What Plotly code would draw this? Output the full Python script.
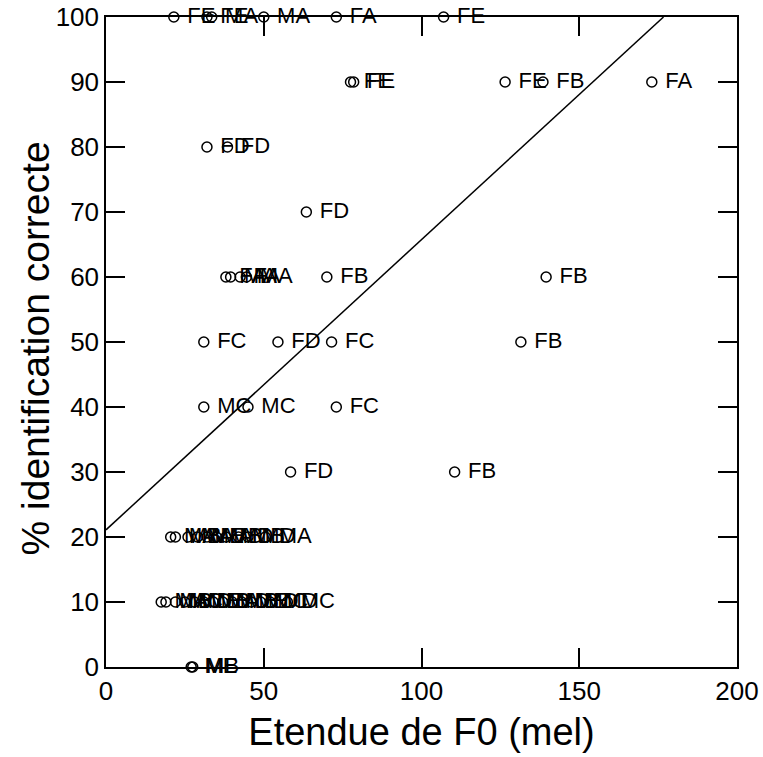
import plotly.graph_objects as go

# x = Etendue de F0 (mel), y = % identification correcte, label
x_vals = [21.5, 32.0, 33.5, 50.0, 73.0, 107.0,
          77.5, 78.5, 126.5, 138.5, 173.0,
          32.0, 38.5,
          63.5,
          38.0, 39.5, 42.5, 44.5, 70.0, 139.5,
          31.0, 54.5, 71.5, 131.5,
          31.0, 45.0, 73.0,
          58.5, 110.5,
          20.5, 22.0, 26.0, 29.0, 32.0, 35.0, 38.0, 42.0, 45.0, 50.5,
          17.5, 19.0, 22.0, 25.0, 28.0, 31.0, 34.0, 37.0, 40.0, 43.0, 46.0, 49.0, 52.0, 57.5,
          27.0, 27.5]
y_vals = [100, 100, 100, 100, 100, 100,
          90, 90, 90, 90, 90,
          80, 80,
          70,
          60, 60, 60, 60, 60, 60,
          50, 50, 50, 50,
          40, 40, 40,
          30, 30,
          20, 20, 20, 20, 20, 20, 20, 20, 20, 20,
          10, 10, 10, 10, 10, 10, 10, 10, 10, 10, 10, 10, 10, 10,
          0, 0]
labels = ["FE", "FE", "MA", "MA", "FA", "FE",
          "FE", "FE", "FE", "FB", "FA",
          "FD", "FD",
          "FD",
          "FA", "MA", "FA", "MA", "FB", "FB",
          "FC", "FD", "FC", "FB",
          "MC", "MC", "FC",
          "FD", "FB",
          "MA", "MB", "MA", "ME", "MA", "MB", "MD", "MB", "MD", "MA",
          "MA", "MB", "MC", "MD", "ME", "MB", "MA", "MD", "MB", "ME", "MD", "MC", "MD", "MC",
          "ME", "MB"]

# regression line
intercept = 21.1
slope = 0.4465

x_ticks = [0, 50, 100, 150, 200]
y_ticks = [0, 10, 20, 30, 40, 50, 60, 70, 80, 90, 100]

x_title = "Etendue de F0 (mel)"
y_title = "% identification correcte"

line_x = [0, (100 - intercept) / slope]
line_y = [intercept + slope * v for v in line_x]

font_main = "Liberation Sans, Arial, sans-serif"

fig = go.Figure()
fig.add_trace(go.Scatter(x=line_x, y=line_y, mode="lines",
                         line=dict(color="black", width=1.5),
                         showlegend=False, hoverinfo="skip"))
fig.add_trace(go.Scatter(x=x_vals, y=y_vals, mode="markers+text",
                         text=["\u00a0" + s for s in labels], textposition="middle right",
                         textfont=dict(family=font_main, size=22, color="black"),
                         marker=dict(symbol="circle-open", size=10, color="black",
                                     line=dict(width=1.5, color="black")),
                         showlegend=False, cliponaxis=False))

axis_common = dict(showgrid=False, zeroline=False, showline=True, linecolor="black",
                   linewidth=1.5, mirror="ticks", ticks="inside", ticklen=19,
                   tickwidth=1.5, tickcolor="black", automargin=False,
                   ticklabeloverflow="allow",
                   tickfont=dict(family=font_main, size=26, color="black"))

fig.update_layout(
    width=763, height=757,
    margin=dict(l=106, r=26, t=17, b=90),
    plot_bgcolor="white", paper_bgcolor="white",
    xaxis=dict(range=[0, 200], tickvals=x_ticks,
               title=dict(text=x_title,
                          font=dict(family=font_main, size=38, color="black"), standoff=13),
               **axis_common),
    yaxis=dict(range=[0, 100], tickvals=y_ticks, **axis_common),
    annotations=[dict(text=y_title, xref="paper", yref="paper",
                      x=-0.111, y=0.49, xanchor="center", yanchor="middle",
                      textangle=-90, showarrow=False,
                      font=dict(family=font_main, size=39, color="black"))],
)

fig.write_html("out.html", config={"displayModeBar": False},
               post_script="document.body.style.margin='0';")
